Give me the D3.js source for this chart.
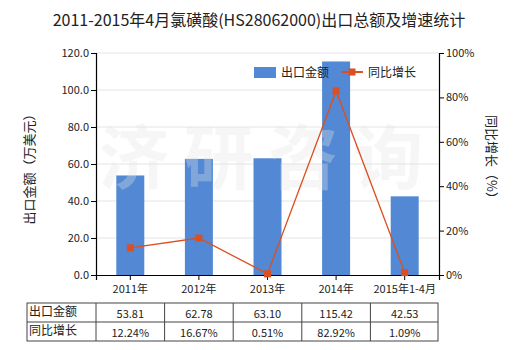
<!DOCTYPE html>
<html><head><meta charset="utf-8">
<script src="https://cdn.jsdelivr.net/npm/d3@7"></script>
<style>
body{margin:0;background:#fff;}
text{font-family:"Microsoft YaHei","Noto Sans CJK SC","Noto Sans",sans-serif;}
</style></head>
<body><svg id="c" width="520" height="350"></svg>
<script>
const categories = ["2011年","2012年","2013年","2014年","2015年1-4月"];
const exportValues = [53.81, 62.78, 63.10, 115.42, 42.53];
const growthValues = [12.24, 16.67, 0.51, 82.92, 1.09];
const exportLabels = ["53.81","62.78","63.10","115.42","42.53"];
const growthLabels = ["12.24%","16.67%","0.51%","82.92%","1.09%"];
const leftTicks = [0,20,40,60,80,100,120];
const rightTicks = [0,20,40,60,80,100];
const title = "2011-2015年4月氯磺酸(HS28062000)出口总额及增速统计";
const seriesNames = ["出口金额","同比增长"];
const watermarkChars = ["济","研","咨","询"];

const svg = d3.select("#c");
const L = 96, R = 439, T = 53, B = 275;
const barColor = "#5389d4", lineColor = "#dc4f1f";

const x = d3.scaleBand().domain(categories).range([L, R]);
const yL = d3.scaleLinear().domain([0,120]).range([B, T]);
const yR = d3.scaleLinear().domain([0,100]).range([B, T]);

// title
svg.append("text").attr("x", 259).attr("y", 26).attr("text-anchor","middle")
  .attr("font-size", 16).attr("fill","#222").text(title);

// gridlines
svg.append("g").selectAll("line").data(leftTicks.filter(d=>d>0)).join("line")
  .attr("x1", L).attr("x2", R).attr("y1", d=>yL(d)).attr("y2", d=>yL(d))
  .attr("stroke","#e4e4e4").attr("stroke-width",1);

// bars
const bw = 28;
svg.append("g").selectAll("rect").data(exportValues).join("rect")
  .attr("x",(d,i)=>x(categories[i]) + x.bandwidth()/2 - bw/2)
  .attr("width", bw)
  .attr("y", d=>yL(d)).attr("height", d=>B - yL(d))
  .attr("fill", barColor);

// watermark
const wmX = d3.scalePoint().domain(watermarkChars).range([134, 388]);
svg.append("g").selectAll("text").data(watermarkChars).join("text")
  .attr("x", d=>wmX(d)).attr("y", 184).attr("text-anchor","middle")
  .attr("font-size", 70).attr("font-weight","bold")
  .attr("fill","#e2e2e2").attr("fill-opacity",0.32).text(d=>d);

// axes
const axL = svg.append("g").attr("transform",`translate(${L},0)`)
  .call(d3.axisLeft(yL).tickValues(leftTicks).tickFormat(d3.format(".1f")).tickSizeOuter(0).tickSize(5));
const axR = svg.append("g").attr("transform",`translate(${R},0)`)
  .call(d3.axisRight(yR).tickValues(rightTicks).tickFormat(d=>d+"%").tickSizeOuter(0).tickSize(5));
const axB = svg.append("g").attr("transform",`translate(0,${B})`)
  .call(d3.axisBottom(x).tickSizeOuter(0).tickSize(5));
[axL, axR, axB].forEach(a=>{
  a.select(".domain").attr("stroke","#000").attr("stroke-width",1.2);
  a.selectAll(".tick line").attr("stroke","#000");
  a.selectAll(".tick text").attr("font-size",11).attr("fill","#222")
    .attr("font-family",'"Microsoft YaHei","Noto Sans CJK SC","Noto Sans",sans-serif');
});
axL.selectAll(".tick text").attr("x",-7);
axR.selectAll(".tick text").attr("x",7);
axB.selectAll(".tick text").attr("y",10);

// line
const line = d3.line().x((d,i)=>x(categories[i]) + x.bandwidth()/2).y(d=>yR(d));
svg.append("path").datum(growthValues).attr("d", line)
  .attr("fill","none").attr("stroke", lineColor).attr("stroke-width",1.3);
svg.append("g").selectAll("rect").data(growthValues).join("rect")
  .attr("x",(d,i)=>x(categories[i]) + x.bandwidth()/2 - 3.5)
  .attr("y", d=>yR(d) - 3.5).attr("width",7).attr("height",7)
  .attr("fill", lineColor);

// axis titles
svg.append("text").attr("transform","translate(34,166) rotate(-90)")
  .attr("text-anchor","middle").attr("font-size",13).attr("fill","#222").text("出口金额（万美元）");
svg.append("text").attr("transform","translate(487,160) rotate(90)")
  .attr("text-anchor","middle").attr("font-size",13).attr("fill","#222").text("同比增长（%）");

// legend
const lg = svg.append("g");
lg.append("rect").attr("x",254).attr("y",67).attr("width",22).attr("height",11).attr("fill",barColor);
lg.append("text").attr("x",281).attr("y",77).attr("font-size",12).attr("fill","#222").text(seriesNames[0]);
lg.append("line").attr("x1",341).attr("x2",363).attr("y1",72).attr("y2",72).attr("stroke",lineColor).attr("stroke-width",2);
lg.append("rect").attr("x",348.5).attr("y",68.5).attr("width",7).attr("height",7).attr("fill",lineColor);
lg.append("text").attr("x",368).attr("y",77).attr("font-size",12).attr("fill","#222").text(seriesNames[1]);

// table
const tL = 27, tR = 438, rows = [303, 322, 341];
const tg = svg.append("g");
tg.append("rect").attr("x",tL).attr("y",rows[0]).attr("width",tR-tL).attr("height",rows[2]-rows[0])
  .attr("fill","none").attr("stroke","#444").attr("stroke-width",1);
tg.append("line").attr("x1",tL).attr("x2",tR).attr("y1",rows[1]).attr("y2",rows[1]).attr("stroke","#444");
const colEdges = [L].concat(categories.slice(1).map(c=>x(c)));
tg.selectAll("line.v").data(colEdges).join("line").attr("class","v")
  .attr("x1",d=>d).attr("x2",d=>d).attr("y1",rows[0]).attr("y2",rows[2]).attr("stroke","#444");
const rowData = [[seriesNames[0], exportLabels],[seriesNames[1], growthLabels]];
rowData.forEach((r,ri)=>{
  const yy = rows[ri] + 14;
  tg.append("text").attr("x",tL+2).attr("y",yy-1).attr("font-size",12).attr("fill","#222").text(r[0]);
  tg.selectAll(null).data(r[1]).join("text")
    .attr("x",(d,i)=>x(categories[i]) + x.bandwidth()/2).attr("y",yy+1)
    .attr("text-anchor","middle").attr("font-size",11).attr("fill","#222").text(d=>d);
});
</script></body></html>
